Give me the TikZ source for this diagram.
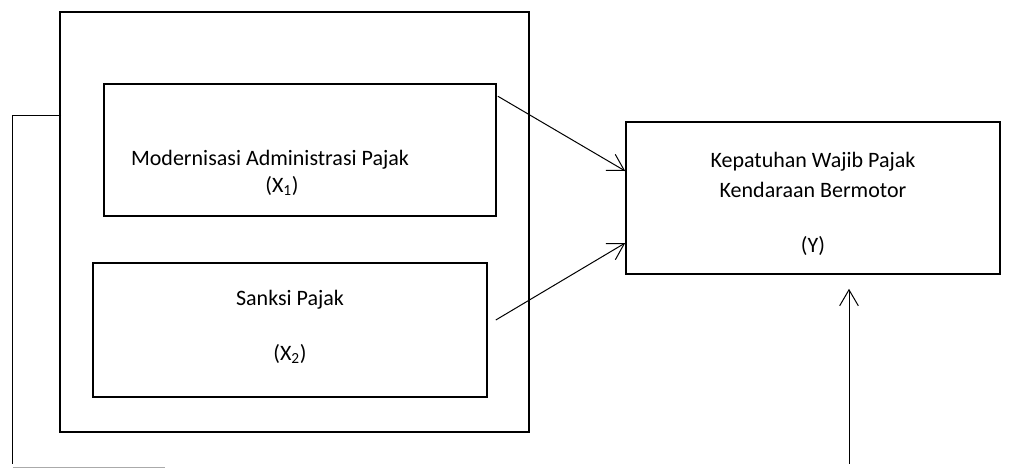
\documentclass[tikz,border=0pt]{standalone}
\usepackage{fontspec}
\setmainfont{Carlito}
\usetikzlibrary{arrows.meta,calc}

\tikzset{every picture/.style={line width=0.75pt}}
\tikzset{
  kotak/.style={draw, line width=1.2pt, inner sep=0pt},
  panah/.style={-{Straight Barb[length=12pt,width=14pt,line width=0.75pt]}, line width=0.75pt},
  teks/.style={inner sep=0.75pt, font=\fontsize{16.5}{20}\selectfont}
}

\begin{document}
\begin{tikzpicture}[x=0.75pt,y=0.75pt,yscale=-1,xscale=1]
\useasboundingbox (0,0) rectangle (1015,468);

%Shape: Rectangle [outer]
\node [kotak, minimum width=351.75pt, minimum height=315pt] (luar) at (294.5,222) {};
%Shape: Rectangle [X1]
\node [kotak, minimum width=294pt, minimum height=99pt] (modern) at (300,150) {};
%Shape: Rectangle [X2]
\node [kotak, minimum width=295.5pt, minimum height=100.5pt] (sanksi) at (290,330) {};
%Shape: Rectangle [Y]
\node [kotak, minimum width=280.5pt, minimum height=114pt] (patuh) at (813,198) {};

% Text Node
\node [teks] (t1a) at (270,160) {Modernisasi Administrasi Pajak};
\node [teks] (t1b) at (282,186) {(X\textsubscript{1})};
% Text Node
\node [teks] (t2a) at (290,300) {Sanksi Pajak};
\node [teks] (t2b) at (290,354) {(X\textsubscript{2})};
% Text Node
\node [teks] (t3a) at (813,162) {Kepatuhan Wajib Pajak};
\node [teks] (t3b) at (813,190) {Kendaraan Bermotor};
\node [teks] (t3c) at (813,246) {(Y)};

%Straight Lines [arrows]
\coordinate (a1) at ($(modern.north east)+(1,13)$);
\coordinate (a2) at ($(sanksi.east)+(8,-10)$);
\coordinate (a3) at ($(patuh.south)+(36,189)$);
\draw [panah] (a1) -- ($(patuh.west)+(0,-27)$);
\draw [panah] (a2) -- ($(patuh.west)+(0,45)$);
\draw [panah] (a3) -- ($(patuh.south)+(36,14)$);

%Straight Lines [left bracket]
\coordinate (k1) at ($(luar.west)+(2,-107)$);
\coordinate (k2) at (12,464);
\draw (k1) -- (k1 -| k2) -- (k2);
\draw [color={rgb, 255:red, 170; green, 170; blue, 170}] (13,467) -- (165,467);

\end{tikzpicture}
\end{document}
